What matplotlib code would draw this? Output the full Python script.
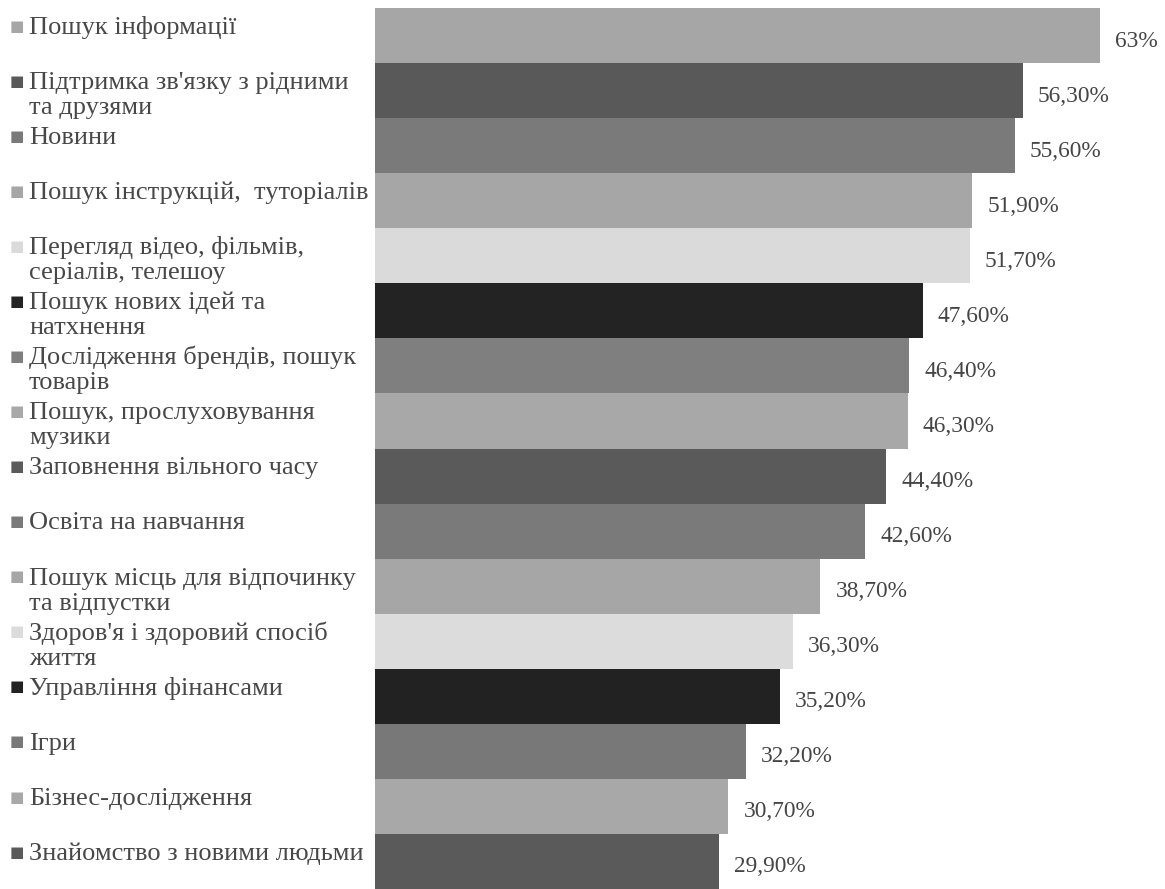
import matplotlib
matplotlib.use("Agg")
import matplotlib.pyplot as plt
import matplotlib.transforms as mtransforms

# --- data ---
categories = [
    "Пошук інформації",
    "Підтримка зв'язку з рідними\nта друзями",
    "Новини",
    "Пошук інструкцій,  туторіалів",
    "Перегляд відео, фільмів,\nсеріалів, телешоу",
    "Пошук нових ідей та\nнатхнення",
    "Дослідження брендів, пошук\nтоварів",
    "Пошук, прослуховування\nмузики",
    "Заповнення вільного часу",
    "Освіта на навчання",
    "Пошук місць для відпочинку\nта відпустки",
    "Здоров'я і здоровий спосіб\nжиття",
    "Управління фінансами",
    "Ігри",
    "Бізнес-дослідження",
    "Знайомство з новими людьми",
]
values = [63.0, 56.3, 55.6, 51.9, 51.7, 47.6, 46.4, 46.3,
          44.4, 42.6, 38.7, 36.3, 35.2, 32.2, 30.7, 29.9]
value_labels = ["63%", "56,30%", "55,60%", "51,90%", "51,70%", "47,60%",
                "46,40%", "46,30%", "44,40%", "42,60%", "38,70%", "36,30%",
                "35,20%", "32,20%", "30,70%", "29,90%"]
colors = ["#a6a6a6", "#595959", "#7a7a7a", "#a6a6a6", "#dadada", "#232323",
          "#7f7f7f", "#a8a8a8", "#5a5a5a", "#7a7a7a", "#a6a6a6", "#dcdcdc",
          "#222222", "#787878", "#a8a8a8", "#5a5a5a"]

plt.rcParams['font.family'] = ['Liberation Serif', 'DejaVu Serif']

W, H = 1165, 889
fig = plt.figure(figsize=(W / 100, H / 100), dpi=100)
ax = fig.add_axes([375 / W, 0.0, 1 - 375 / W, (H - 8) / H])

y = list(range(len(values)))
ax.barh(y, values, height=1.0, color=colors, edgecolor="none")
ax.set_ylim(len(values) - 0.5, -0.5)
ax.set_xlim(0, (W - 375) / 11.51)
ax.axis("off")

for yi, v, lab in zip(y, values, value_labels):
    ax.text(v + 1.3, yi + 0.1, lab, va="center", ha="left",
            fontsize=16.8, color="#454545")

# legend-like labels on the left, aligned with each bar
line_step = 25 / 55  # one text line in bar units
trans = mtransforms.blended_transform_factory(fig.transFigure, ax.transData)
for yi, lab, c in zip(y, categories, colors):
    ax.text(10 / W, yi - 0.17, "\u25a0", transform=trans, va="center",
            ha="left", fontsize=11, color=c, family="DejaVu Sans", clip_on=False)
    for k, line in enumerate(lab.split("\n")):
        ax.text(29 / W, yi - 0.03 + k * line_step, line, transform=trans,
                va="baseline", ha="left", fontsize=19, color="#484848",
                clip_on=False)

fig.savefig("out.png", dpi=100, facecolor="white")
